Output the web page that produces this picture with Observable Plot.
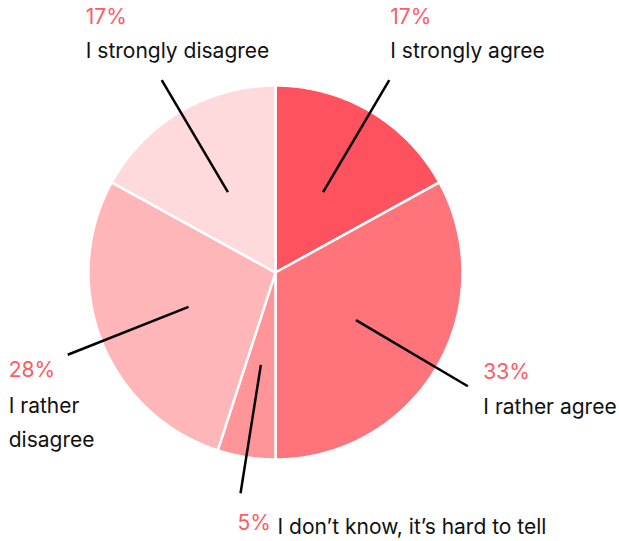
<!DOCTYPE html>
<html>
<head>
<meta charset="utf-8">
<script src="https://cdn.jsdelivr.net/npm/d3@7"></script>
<script src="https://cdn.jsdelivr.net/npm/@observablehq/plot@0.6"></script>
<style>
  html, body { margin: 0; padding: 0; background: #fff; }
  svg { display: block; }
</style>
</head>
<body>
<div id="chart"></div>
<script>
// ---- data ----
const categories = ["I strongly agree", "I rather agree", "I don’t know, it’s hard to tell", "I rather disagree", "I strongly disagree"];
const labelLines = ["I strongly agree", "I rather agree", "I don’t know, it’s hard to tell", "I rather\ndisagree", "I strongly disagree"];
const values = [17, 33, 5, 28, 17];
const colors = ["#ff525f", "#ff737a", "#ff9598", "#ffb6b9", "#ffdadd"];

// ---- layout ----
const W = 619, H = 541;
const CX = 275, CY = 272, RPX = 187;   // pixel centre & radius
const innerR = 0.5, outerR = 1.195;
// label offsets (pixels) relative to leader-line end, in slice order
const labelOffsets = [
  {pdx: 1, pdy: -63, ldx: 1, ldy: -33},     // strongly agree
  {pdx: 15.5, pdy: -14, ldx: 15.5, ldy: 17}, // rather agree
  {pdx: -3, pdy: 30, ldx: 37, ldy: 30},      // don't know
  {pdx: -59, pdy: 16, ldx: -59, ldy: 64},    // rather disagree
  {pdx: -76, pdy: -63, ldx: -76, ldy: -33}   // strongly disagree
];

const total = d3.sum(values);
let acc = 0;
const slices = values.map((v, i) => {
  const a0 = acc / total * 2 * Math.PI;
  acc += v;
  const a1 = acc / total * 2 * Math.PI;
  return {i, v, a0, a1, am: (a0 + a1) / 2, cat: categories[i]};
});
const pol = (r, a) => ({x: r * Math.sin(a), y: r * Math.cos(a)});

const marks = [];
for (const s of slices) {
  const pts = [{x: 0, y: 0}];
  const n = Math.max(2, Math.ceil((s.a1 - s.a0) / 0.01));
  for (let k = 0; k <= n; k++) pts.push(pol(1, s.a0 + (s.a1 - s.a0) * k / n));
  marks.push(Plot.line(pts, {x: "x", y: "y", curve: "linear-closed", fill: colors[s.i], stroke: "white", strokeWidth: 2.5, strokeLinejoin: "round"}));
}
// leader lines
const leaders = slices.map(s => {
  const p0 = pol(innerR, s.am), p1 = pol(outerR, s.am);
  return {x1: p0.x, y1: p0.y, x2: p1.x, y2: p1.y};
});
marks.push(Plot.link(leaders, {x1: "x1", y1: "y1", x2: "x2", y2: "y2", stroke: "black", strokeWidth: 2.5}));

// labels
slices.forEach((s) => {
  const o = labelOffsets[s.i];
  const p = pol(outerR, s.am);
  marks.push(Plot.text([p], {x: "x", y: "y", text: () => `${s.v}%`, dx: o.pdx, dy: o.pdy, textAnchor: "start", fill: "#ff5a66", fontSize: 21}));
  marks.push(Plot.text([p], {x: "x", y: "y", text: () => labelLines[s.i], dx: o.ldx, dy: o.ldy, textAnchor: "start", fill: "#111", fontSize: 21, lineHeight: 1.62}));
});

const chart = Plot.plot({
  width: W,
  height: H,
  margin: 0,
  style: {fontFamily: "Inter, sans-serif", background: "white"},
  x: {type: "linear", domain: [-CX / RPX, (W - CX) / RPX], range: [0, W], axis: null},
  y: {type: "linear", domain: [-(H - CY) / RPX, CY / RPX], range: [H, 0], axis: null},
  marks
});
document.getElementById("chart").appendChild(chart);
</script>
</body>
</html>
